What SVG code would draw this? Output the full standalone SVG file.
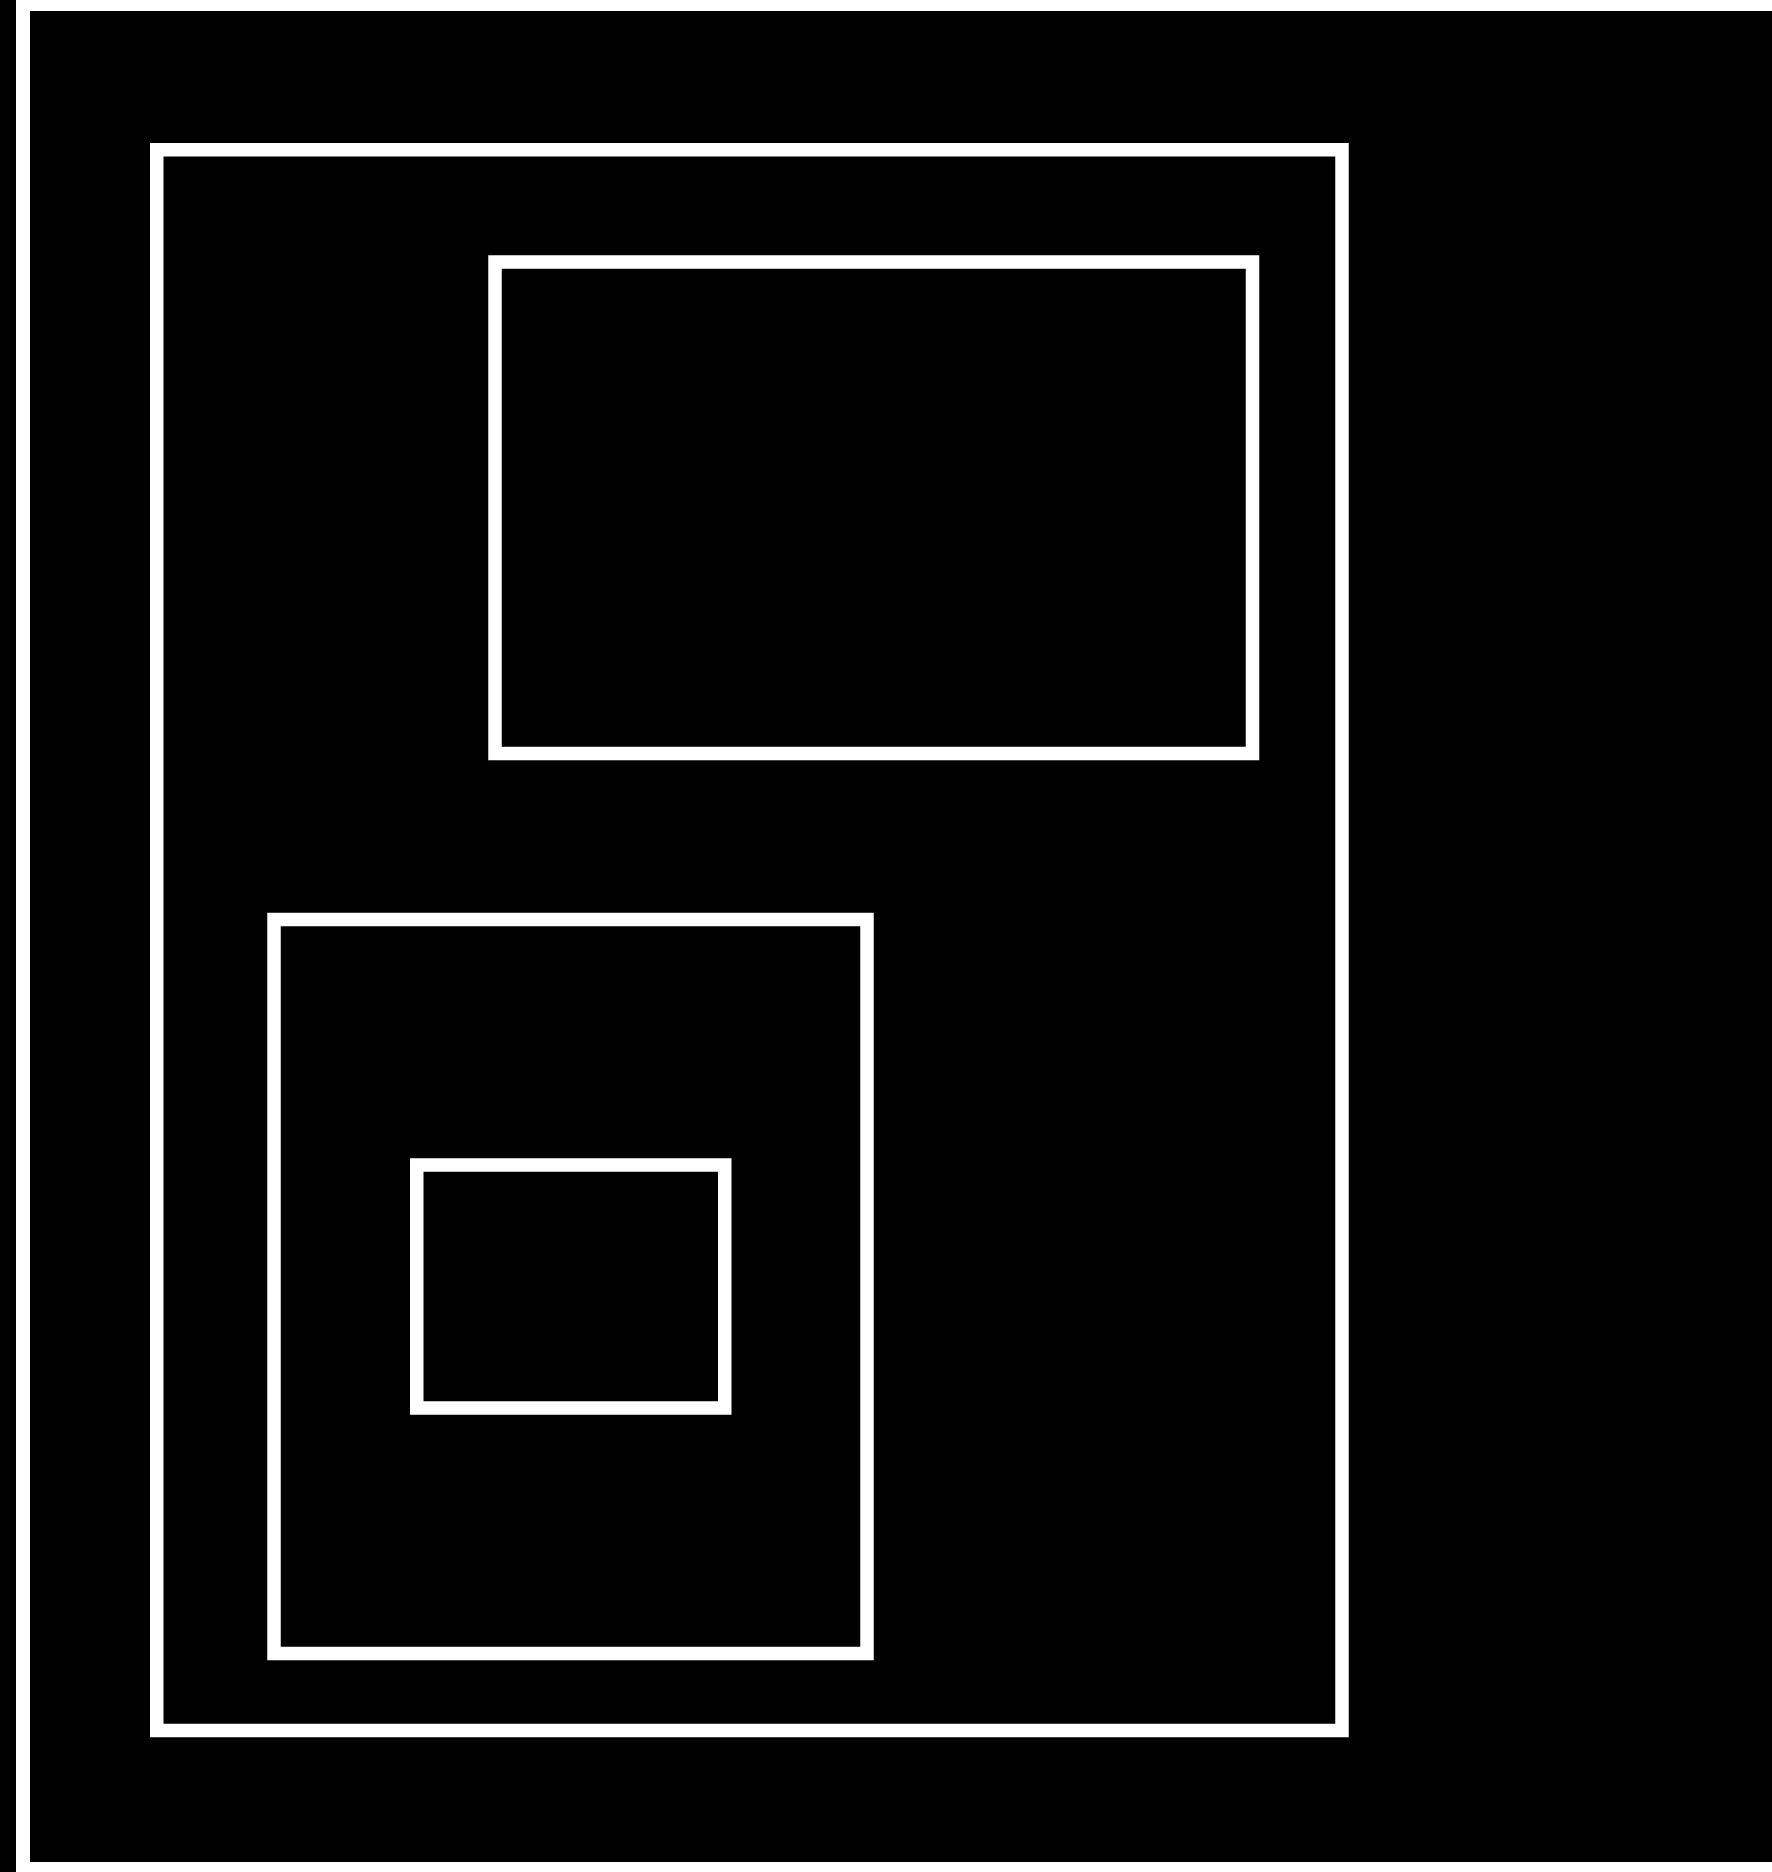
<svg xmlns="http://www.w3.org/2000/svg" width="1772" height="1872" viewBox="0 0 1772 1872">
  <style>
    .box { fill: #000000; stroke: #ffffff; stroke-width: 13.5; }
  </style>
  <rect x="0" y="0" width="1772" height="1872" fill="#ffffff"/>
  <rect x="0" y="0" width="16" height="1872" fill="#000000"/>
  <g id="frame">
    <rect x="30" y="11" width="1742" height="1851" fill="#000000"/>
  </g>
  <g id="outer-box">
    <rect class="box" x="156.75" y="149.75" width="1185.25" height="1580.75"/>
  </g>
  <g id="top-box">
    <rect class="box" x="495" y="262" width="757.5" height="491.5"/>
  </g>
  <g id="lower-box">
    <rect class="box" x="274" y="919.5" width="593" height="734"/>
  </g>
  <g id="inner-box">
    <rect class="box" x="416.75" y="1165" width="308" height="243"/>
  </g>
  <g id="connectors"></g>
</svg>
